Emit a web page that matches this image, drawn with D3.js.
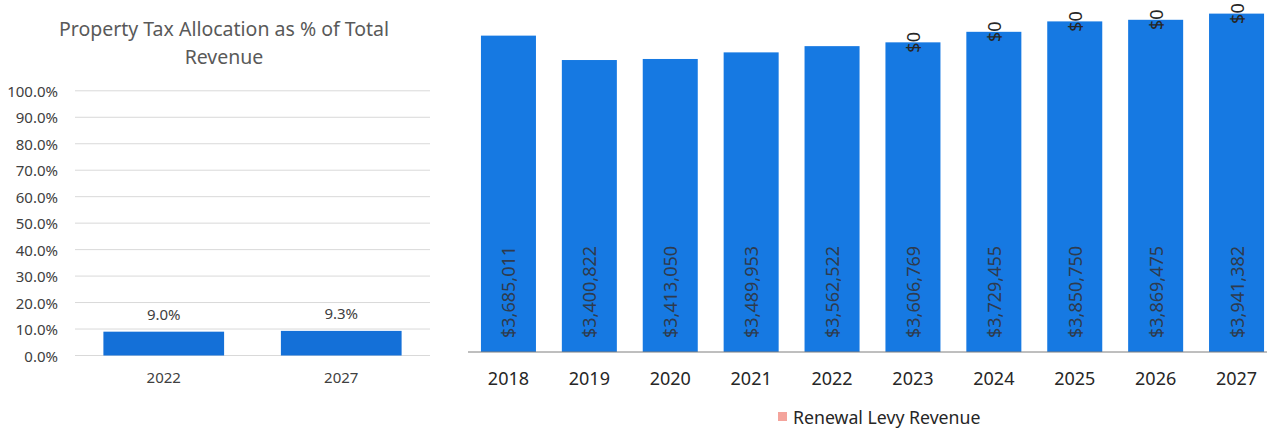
<!DOCTYPE html>
<html>
<head>
<meta charset="utf-8">
<script src="https://cdn.jsdelivr.net/npm/d3@7"></script>
<style>
  html, body { margin: 0; padding: 0; background: #fff; }
  svg { display: block; font-family: "Noto Sans", "Open Sans", sans-serif; }
</style>
</head>
<body>
<svg id="chart" width="1267" height="429"></svg>
<script>
// ---- Left chart data ----
const shareTitle = ["Property Tax Allocation as % of Total", "Revenue"];
const shareCategories = ["2022", "2027"];
const shareValues = [9.0, 9.3];
const shareTicks = [0, 10, 20, 30, 40, 50, 60, 70, 80, 90, 100];

// ---- Right chart data ----
const years = ["2018", "2019", "2020", "2021", "2022", "2023", "2024", "2025", "2026", "2027"];
const propertyTaxRevenue = [3685011, 3400822, 3413050, 3489953, 3562522, 3606769, 3729455, 3850750, 3869475, 3941382];
const renewalLevyRevenue = [null, null, null, null, null, 0, 0, 0, 0, 0];
const legendLabels = ["Renewal Levy Revenue"];

const svg = d3.select("#chart");

// ================= Left chart =================
{
  const x = d3.scaleBand().domain(shareCategories).range([75, 430]).paddingInner(0.32).paddingOuter(0.16);
  const y = d3.scaleLinear().domain([0, 100]).range([355.5, 90.8]);
  const g = svg.append("g");

  g.append("text")
    .attr("x", 224).attr("y", 28).attr("text-anchor", "middle")
    .attr("dominant-baseline", "central")
    .attr("fill", "#595959").attr("font-size", 19.5)
    .selectAll("tspan").data(shareTitle).join("tspan")
    .attr("x", 224).attr("dy", (d, i) => i === 0 ? 0 : 28)
    .text(d => d);

  g.append("g").selectAll("line").data(shareTicks).join("line")
    .attr("x1", 75).attr("x2", 430)
    .attr("y1", d => y(d)).attr("y2", d => y(d))
    .attr("stroke", "#d9d9d9").attr("stroke-width", 1);

  g.append("g").selectAll("text").data(shareTicks).join("text")
    .attr("x", 58).attr("y", d => y(d))
    .attr("text-anchor", "end").attr("dominant-baseline", "central")
    .attr("fill", "#404040").attr("font-size", 15)
    .text(d => d3.format(".1f")(d) + "%");

  g.append("g").selectAll("rect").data(shareValues).join("rect")
    .attr("x", (d, i) => x(shareCategories[i]))
    .attr("width", x.bandwidth())
    .attr("y", d => y(d))
    .attr("height", d => y(0) - y(d))
    .attr("fill", "#1470d8");

  g.append("g").selectAll("text").data(shareValues).join("text")
    .attr("x", (d, i) => x(shareCategories[i]) + x.bandwidth() / 2)
    .attr("y", d => y(d) - 18)
    .attr("text-anchor", "middle").attr("dominant-baseline", "central")
    .attr("fill", "#404040").attr("font-size", 15)
    .text(d => d3.format(".1f")(d) + "%");

  g.append("g").selectAll("text").data(shareCategories).join("text")
    .attr("x", d => x(d) + x.bandwidth() / 2)
    .attr("y", 377)
    .attr("text-anchor", "middle").attr("dominant-baseline", "central")
    .attr("fill", "#404040").attr("font-size", 15)
    .text(d => d);
}

// ================= Right chart =================
{
  const x = d3.scaleBand().domain(years).range([468, 1277]).paddingInner(0.32).paddingOuter(0.16);
  const y = d3.scaleLinear().domain([0, 4100000]).range([352, 0]);
  const g = svg.append("g");
  const fmt = d3.format("$,.0f");

  g.append("g").selectAll("rect").data(propertyTaxRevenue).join("rect")
    .attr("x", (d, i) => x(years[i]))
    .attr("width", x.bandwidth())
    .attr("y", d => y(d))
    .attr("height", d => y(0) - y(d))
    .attr("fill", "#1679e2");

  g.append("line")
    .attr("x1", 468).attr("x2", 1267).attr("y1", y(0)).attr("y2", y(0))
    .attr("stroke", "#7f7f7f").attr("stroke-width", 1);

  // values inside bars (rotated)
  g.append("g").selectAll("text").data(propertyTaxRevenue).join("text")
    .attr("transform", (d, i) => `translate(${x(years[i]) + x.bandwidth() / 2},${y(0) - 14}) rotate(-90)`)
    .attr("text-anchor", "start").attr("dominant-baseline", "central")
    .attr("fill", "#2e3b4e").attr("font-size", 18)
    .text(d => fmt(d));

  // Renewal levy labels ($0) at top of stack
  const levy = renewalLevyRevenue.map((v, i) => ({ v, i })).filter(d => d.v !== null);
  g.append("g").selectAll("text").data(levy).join("text")
    .attr("transform", d => `translate(${x(years[d.i]) + x.bandwidth() / 2},${y(propertyTaxRevenue[d.i] + d.v)}) rotate(-90)`)
    .attr("text-anchor", "middle").attr("dominant-baseline", "central")
    .attr("fill", "#262626").attr("font-size", 18)
    .text(d => fmt(d.v));

  g.append("g").selectAll("text").data(years).join("text")
    .attr("x", d => x(d) + x.bandwidth() / 2)
    .attr("y", 378)
    .attr("text-anchor", "middle").attr("dominant-baseline", "central")
    .attr("fill", "#262626").attr("font-size", 18)
    .text(d => d);

  const lg = g.append("g").attr("transform", "translate(778,417)");
  lg.selectAll("rect").data(legendLabels).join("rect")
    .attr("x", 0).attr("y", -5).attr("width", 9).attr("height", 9)
    .attr("fill", "#f4a49c");
  lg.selectAll("text").data(legendLabels).join("text")
    .attr("x", 15).attr("y", 0)
    .attr("dominant-baseline", "central")
    .attr("fill", "#262626").attr("font-size", 17.7)
    .text(d => d);
}
</script>
</body>
</html>
